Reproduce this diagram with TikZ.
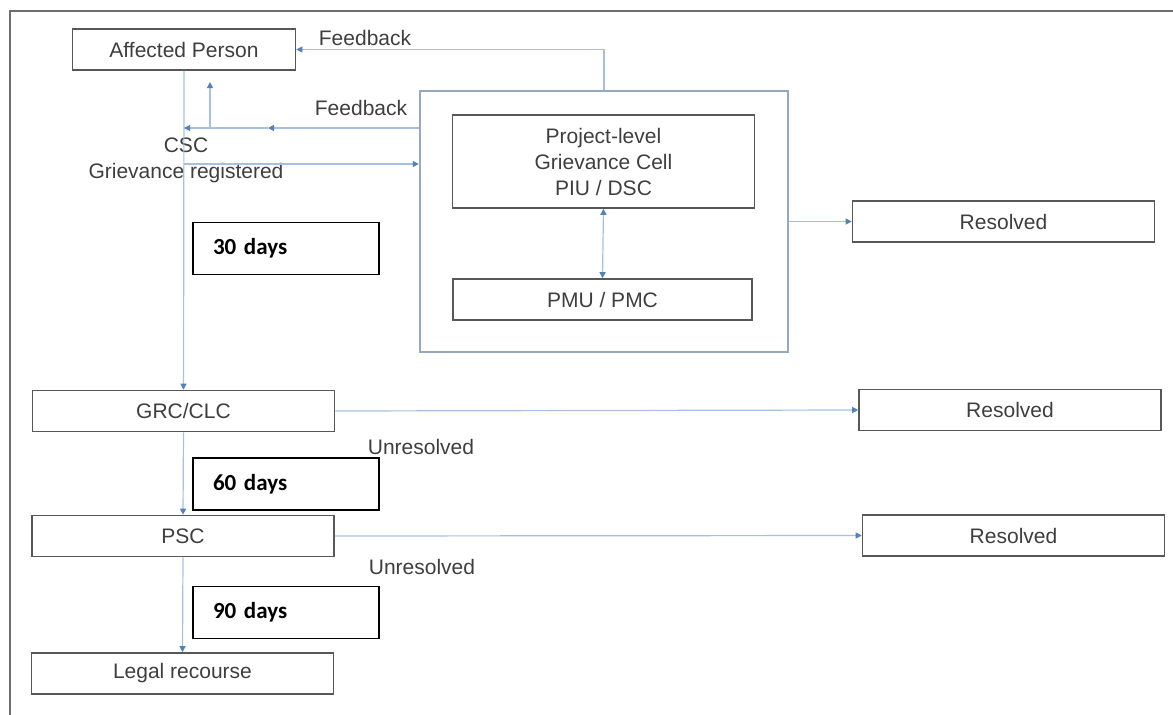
\documentclass[tikz,border=0pt]{standalone}
\usepackage{fontspec}
\setmainfont{Liberation Sans}
\newfontfamily\daysfont{Carlito}
\usepackage{tikz}
\usetikzlibrary{arrows.meta}
\definecolor{lineBlue}{RGB}{165, 192, 224}
\definecolor{tipBlue}{RGB}{84, 130, 182}
\definecolor{cellEdge}{RGB}{150, 168, 190}
\definecolor{boxEdge}{RGB}{88, 88, 88}
\definecolor{txtGray}{RGB}{62, 62, 62}
\definecolor{frameGray}{RGB}{110, 110, 110}

\begin{document}
\begin{tikzpicture}[x=1pt, y=-1pt, font=\fontsize{21}{26}\selectfont, text=txtGray,
  box/.style={draw=boxEdge, line width=1.6pt, inner sep=0pt,
              minimum width=302pt, minimum height=41pt},
  daybox/.style={draw=black, line width=1.8pt, inner xsep=20pt, text width=146pt,
                 align=left, minimum height=52pt, text=black,
                 font=\daysfont\bfseries\fontsize{23}{26}\selectfont},
  flow/.style={draw=lineBlue, line width=1.2pt,
               -{Triangle[length=6pt, width=6pt, color=tipBlue]}},
  both/.style={draw=lineBlue, line width=1.2pt,
               {Triangle[length=6pt, width=6pt, color=tipBlue]}-{Triangle[length=6pt, width=6pt, color=tipBlue]}}]
  \useasboundingbox (0,0) rectangle (1173,715);
  \draw[frameGray, line width=1.5pt] (10,715) -- (10,11) -- (1173,11);

  % Affected person and CSC
  \node[box, minimum width=223pt] (ap) at (184,49.5) {Affected Person};
  \node[align=center] (csc) at (186,160) {CSC\\Grievance registered};

  % Project-level grievance cell
  \node[draw=cellEdge, line width=2.4pt, minimum width=368pt, minimum height=261pt] (pg) at (604,221.5) {};
  \node[box, minimum height=93pt, align=center] (cell) at (603.5,161.5) {Project-level\\Grievance Cell\\PIU / DSC};
  \node[box, minimum width=299pt] (pmu) at (602.5,299.5) {PMU / PMC};

  % Escalation levels
  \node[box] (grc) at (183.5,411) {GRC/CLC};
  \node[box] (psc) at (183,536) {PSC};
  \node[box] (legal) at (182.5,673.5) {Legal recourse};

  % Time limits
  \node[daybox] (d30) at (286,248.5) {30 days};
  \node[daybox] (d60) at (286,484) {60 days};
  \node[daybox] (d90) at (286,612.5) {90 days};

  % Outcomes
  \node[box] (res1) at (1003.5,221.5) {Resolved};
  \node[box] (res2) at (1010,410) {Resolved};
  \node[box] (res3) at (1013.5,535.5) {Resolved};

  % Labels
  \node (fb1) at (365,38) {Feedback};
  \node (fb2) at (361,108) {Feedback};
  \node (un1) at (421,447) {Unresolved};
  \node (un2) at (422,567) {Unresolved};

  % Free ends on the CSC line
  \coordinate (fbend) at (184,128);
  \coordinate (fbmid) at (268,128);
  \coordinate (upfoot) at (210,128);
  \coordinate (uptip) at (210,82);
  \coordinate (cscout) at (184,164);

  % Main chain
  \draw[flow] (ap.south) -- (grc.north);
  \draw[flow] (grc.south) -- (psc.north);
  \draw[flow] (psc.south) -- (legal.north);

  % To resolved
  \draw[flow] (pg.east) -- (res1.west);
  \draw[flow] (grc.east) -- (res2.west);
  \draw[flow] (psc.east) -- (res3.west);

  % Feedback and registration
  \draw[flow] (pg.north) |- (ap.east);
  \draw[flow] (pg.west |- fbend) -- (fbmid);
  \draw[flow] (fbmid) -- (fbend);
  \draw[flow] (upfoot) -- (uptip);
  \draw[flow] (cscout) -- (cscout -| pg.west);
  \draw[both] (cell.south) -- (pmu.north);
\end{tikzpicture}
\end{document}
